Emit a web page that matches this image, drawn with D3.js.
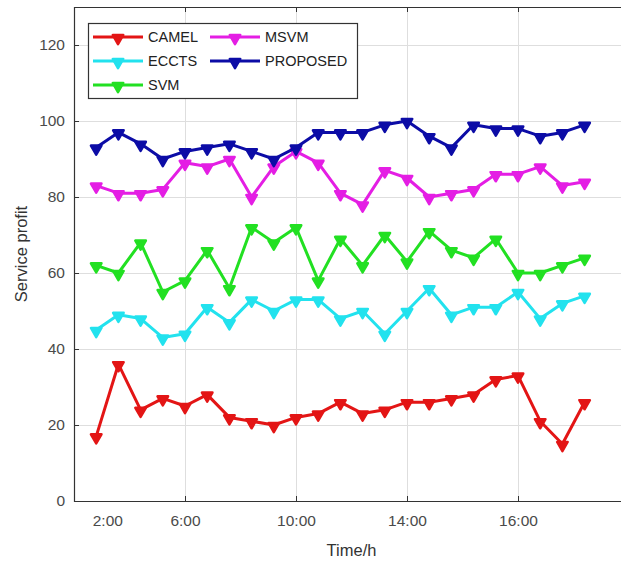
<!DOCTYPE html>
<html>
<head>
<meta charset="utf-8">
<script src="https://cdn.jsdelivr.net/npm/d3@7"></script>
<style>
  html, body { margin: 0; padding: 0; background: #fff; }
  svg { display: block; overflow: hidden; }
  text { font-family: "Liberation Sans", Arial, Helvetica, sans-serif; }
</style>
</head>
<body>
<svg id="chart" width="621" height="562"></svg>
<script>
// Hourly samples (index 1..23) of service profit for each scheme
const hours = d3.range(1, 24);
const camel    = [17, 36, 24, 27, 25, 28, 22, 21, 20, 22, 23, 26, 23, 24, 26, 26, 27, 28, 32, 33, 21, 15, 26];
const eccts    = [45, 49, 48, 43, 44, 51, 47, 53, 50, 53, 53, 48, 50, 44, 50, 56, 49, 51, 51, 55, 48, 52, 54];
const svm      = [62, 60, 68, 55, 58, 66, 56, 72, 68, 72, 58, 69, 62, 70, 63, 71, 66, 64, 69, 60, 60, 62, 64];
const msvm     = [83, 81, 81, 82, 89, 88, 90, 80, 88, 92, 89, 81, 78, 87, 85, 80, 81, 82, 86, 86, 88, 83, 84];
const proposed = [93, 97, 94, 90, 92, 93, 94, 92, 90, 93, 97, 97, 97, 99, 100, 96, 93, 99, 98, 98, 96, 97, 99];

const seriesNames = ["CAMEL", "ECCTS", "SVM", "MSVM", "PROPOSED"];
const seriesColors = ["#e31515", "#22e2ee", "#22e022", "#e41ee4", "#0c0ca6"];
const seriesValues = [camel, eccts, svm, msvm, proposed];

const xTickValues = [1.5, 5, 10, 15, 20];
const xTickLabels = ["2:00", "6:00", "10:00", "14:00", "16:00"];
const yTickValues = [0, 20, 40, 60, 80, 100, 120];

const svg = d3.select("#chart");
const plotLeft = 74, plotRight = 629, plotTop = 7, plotBottom = 501;

const x = d3.scaleLinear().domain([0, 25]).range([plotLeft, plotRight]);
const y = d3.scaleLinear().domain([0, 130]).range([plotBottom, plotTop]);

// grid
const grid = svg.append("g").attr("stroke", "#dedede").attr("stroke-width", 1);
yTickValues.filter(v => v > 0).forEach(v => {
  grid.append("line").attr("x1", plotLeft).attr("x2", plotRight)
    .attr("y1", Math.round(y(v)) + 0.5).attr("y2", Math.round(y(v)) + 0.5);
});
xTickValues.filter(v => v !== 1.5).forEach(v => {
  grid.append("line").attr("y1", plotTop).attr("y2", plotBottom)
    .attr("x1", Math.round(x(v)) + 0.5).attr("x2", Math.round(x(v)) + 0.5);
});

// axes (ticks point inward)
const axisColor = "#333";
const yAxis = svg.append("g").attr("transform", `translate(${plotLeft},0)`)
  .call(d3.axisLeft(y).tickValues(yTickValues).tickSize(-5).tickPadding(9));
yAxis.select(".domain").remove();
yAxis.selectAll("line").attr("stroke", axisColor);
yAxis.selectAll("text").attr("font-size", 15.5).attr("fill", "#4a4a4a");

const xAxis = svg.append("g").attr("transform", `translate(0,${plotBottom})`)
  .call(d3.axisBottom(x).tickValues(xTickValues)
    .tickFormat((d, i) => xTickLabels[i]).tickSize(-5).tickPadding(14));
xAxis.select(".domain").remove();
xAxis.selectAll("line").attr("stroke", d => d === 1.5 ? "none" : axisColor);
xAxis.selectAll("text").attr("font-size", 15.5).attr("fill", "#4a4a4a");

const topTicks = svg.append("g").attr("transform", `translate(0,${plotTop})`)
  .call(d3.axisTop(x).tickValues(xTickValues.filter(v => v !== 1.5)).tickSize(-5).tickFormat(""));
topTicks.select(".domain").remove();
topTicks.selectAll("line").attr("stroke", axisColor);

// frame
svg.append("path")
  .attr("d", `M${plotRight},${plotTop + 0.5}H${plotLeft + 0.5}V${plotBottom + 0.5}H${plotRight}`)
  .attr("fill", "none").attr("stroke", axisColor).attr("stroke-width", 1.2);

// series lines and markers
const line = d3.line().x((d, i) => x(hours[i])).y(d => y(d));
const marker = d3.symbol().type(d3.symbolTriangle).size(48);

seriesValues.forEach((vals, k) => {
  const g = svg.append("g");
  g.append("path").datum(vals).attr("d", line)
    .attr("fill", "none").attr("stroke", seriesColors[k])
    .attr("stroke-width", 3).attr("stroke-linejoin", "round");
  g.selectAll("path.mk").data(vals).join("path").attr("class", "mk")
    .attr("d", marker)
    .attr("transform", (d, i) => `translate(${x(hours[i])},${y(d) + 1}) rotate(180)`)
    .attr("fill", seriesColors[k]).attr("stroke", seriesColors[k])
    .attr("stroke-width", 2.5).attr("stroke-linejoin", "round");
});

// legend
const legend = svg.append("g");
legend.append("rect").attr("x", 88.5).attr("y", 23.5).attr("width", 269).attr("height", 75)
  .attr("fill", "#fff").attr("stroke", "#333").attr("stroke-width", 1.2);
const legendPos = [
  { x: 93, y: 37 },   // CAMEL
  { x: 93, y: 61 },   // ECCTS
  { x: 93, y: 85 },   // SVM
  { x: 210, y: 37 },  // MSVM
  { x: 210, y: 61 }   // PROPOSED
];
seriesNames.forEach((name, k) => {
  const p = legendPos[k];
  legend.append("line").attr("x1", p.x).attr("x2", p.x + 50)
    .attr("y1", p.y).attr("y2", p.y)
    .attr("stroke", seriesColors[k]).attr("stroke-width", 3);
  legend.append("path").attr("d", marker)
    .attr("transform", `translate(${p.x + 25},${p.y + 1}) rotate(180)`)
    .attr("fill", seriesColors[k]).attr("stroke", seriesColors[k])
    .attr("stroke-width", 2.5).attr("stroke-linejoin", "round");
  legend.append("text").attr("x", p.x + 55).attr("y", p.y + 5)
    .attr("font-size", 14.5).attr("fill", "#222").text(name);
});

// axis titles
svg.append("text").attr("x", (plotLeft + plotRight) / 2).attr("y", 556)
  .attr("text-anchor", "middle").attr("font-size", 16.5).attr("fill", "#333").text("Time/h");
svg.append("text").attr("transform", `translate(27,${(plotTop + plotBottom) / 2}) rotate(-90)`)
  .attr("text-anchor", "middle").attr("font-size", 16.5).attr("fill", "#333").text("Service profit");
</script>
</body>
</html>
